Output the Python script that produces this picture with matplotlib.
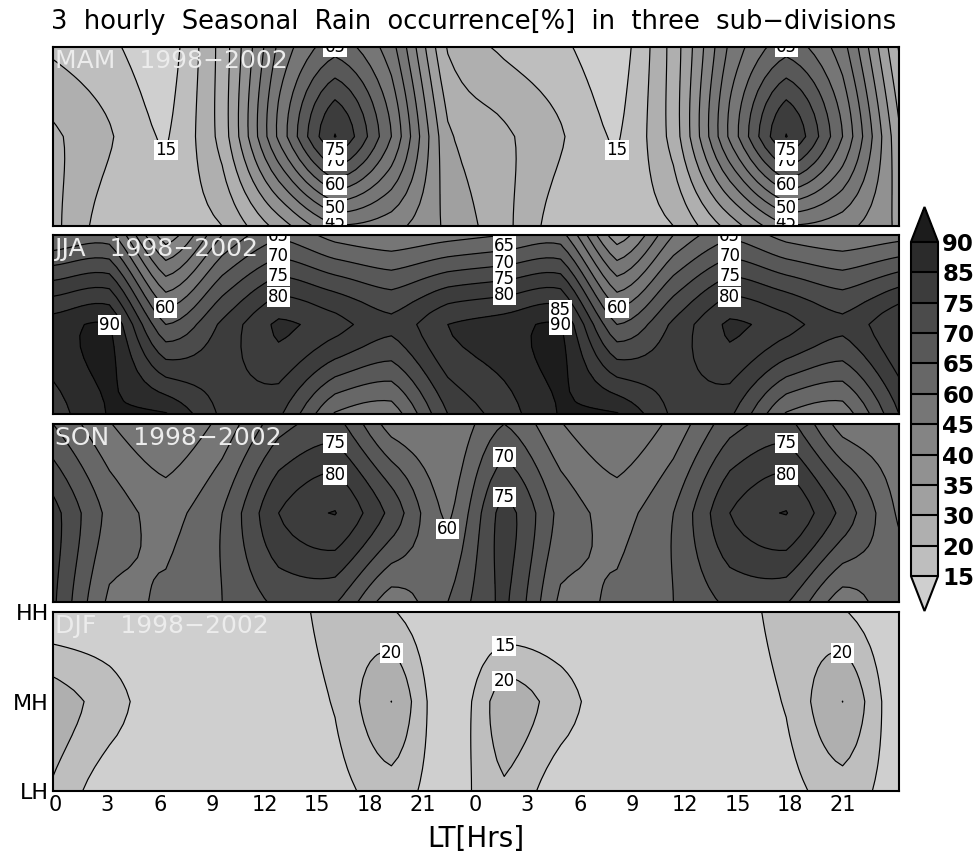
import matplotlib
matplotlib.use("Agg")
import matplotlib.pyplot as plt
import numpy as np
from matplotlib.colors import BoundaryNorm, ListedColormap

# one day of values, eight columns; the plot shows the day twice
MAM_HH = [19, 16, 12, 27, 51, 63, 52, 24.5]
MAM_MH = [26, 20.5, 14.5, 27, 56, 80.2, 60, 31]
MAM_LH = [26.5, 17, 17.5, 20, 32, 44.5, 42, 34]

JJA_HH = [60, 62, 37, 55, 64, 58, 56, 58]
JJA_MH = [87.5, 90.3, 65, 76, 86, 82, 76.5, 85]
JJA_LH = [82.4, 90.4, 90.4, 79, 76, 59.5, 57, 75]

SON_HH = [65, 55.3, 50, 56.5, 68, 72, 57.5, 55]
SON_MH = [77, 63.5, 58, 65, 80, 85.2, 73.5, 59]
SON_LH = [76, 59, 61, 65, 71, 70.5, 57, 65]

DJF_HH = [10, 10, 9, 9, 12, 17, 15.5, 9]
DJF_MH = [23, 17.5, 11, 11, 12, 15.4, 25.03, 10]
DJF_LH = [19.3, 11.5, 10, 9, 10, 13, 17.7, 12]

SHADE_LEVELS = [15, 20, 30, 35, 40, 45, 60, 65, 70, 75, 85, 90]
LINE_LEVELS = list(range(15, 95, 5))
GREYS = [190, 175, 160, 145, 132, 118, 103, 88, 75, 60, 43]
GREY_UNDER = 207
GREY_OVER = 28
HOUR_LABELS = [0, 3, 6, 9, 12, 15, 18, 21, 0, 3, 6, 9, 12, 15, 18, 21]
HEIGHT_LABELS = ["LH", "MH", "HH"]

# (column, pixel row in the picture, level)
MAM_LABELS = [(2, 150, 15), (10, 150, 15)] + [
    (col, row, lev)
    for col in (5, 13)
    for row, lev in ((47, 65), (222, 45), (208, 50), (185, 60), (161, 70), (150, 75))
]
JJA_LABELS = [
    (1, 325, 90), (2, 308, 60), (10, 308, 60), (9, 310, 85), (9, 325, 90),
    (8, 246, 65), (8, 263, 70), (8, 279, 75), (8, 295, 80),
    (4, 236, 65), (4, 256, 70), (4, 276, 75), (4, 297, 80),
    (12, 236, 65), (12, 256, 70), (12, 276, 75), (12, 297, 80),
]
SON_LABELS = [
    (5, 443, 75), (5, 475, 80), (13, 443, 75), (13, 475, 80),
    (7, 529, 60), (8, 457, 70), (8, 497, 75),
]
DJF_LABELS = [(6, 653, 20), (14, 653, 20), (8, 646, 15), (8, 681, 20)]

PANELS = [
    ("MAM", MAM_HH, MAM_MH, MAM_LH, MAM_LABELS, 47, 226),
    ("JJA", JJA_HH, JJA_MH, JJA_LH, JJA_LABELS, 235, 414),
    ("SON", SON_HH, SON_MH, SON_LH, SON_LABELS, 424, 602),
    ("DJF", DJF_HH, DJF_MH, DJF_LH, DJF_LABELS, 612, 791),
]

WIDTH, HEIGHT = 976, 856
LEFT, RIGHT = 53, 899
REFINE = 8
CUBIC_SHARE = 0.5


def grey(value):
    return (value / 255, value / 255, value / 255)


def cubic_refine(values, factor=REFINE):
    # cubic convolution along one line of grid points, eased towards straight segments
    values = np.asarray(values, dtype=float)
    padded = np.concatenate(
        ([2 * values[0] - values[1]], values, [2 * values[-1] - values[-2]])
    )
    output = []
    for i in range(1, len(padded) - 2):
        p0, p1, p2, p3 = padded[i - 1 : i + 3]
        for t in np.arange(factor) / factor:
            cubic = 0.5 * (
                2 * p1
                + (p2 - p0) * t
                + (2 * p0 - 5 * p1 + 4 * p2 - p3) * t**2
                + (3 * p1 - p0 - 3 * p2 + p3) * t**3
            )
            straight = p1 + (p2 - p1) * t
            output.append(CUBIC_SHARE * cubic + (1 - CUBIC_SHARE) * straight)
    output.append(values[-1])
    return np.array(output)


def smooth_field(field):
    rows = np.apply_along_axis(cubic_refine, 1, field)
    return np.apply_along_axis(cubic_refine, 0, rows)


def px_axes(left, top, right, bottom):
    return [left / WIDTH, 1 - bottom / HEIGHT, (right - left) / WIDTH, (bottom - top) / HEIGHT]


plt.rcParams["font.family"] = ["DejaVu Sans"]
cmap = ListedColormap([grey(v) for v in GREYS])
cmap.set_under(grey(GREY_UNDER))
cmap.set_over(grey(GREY_OVER))
norm = BoundaryNorm(SHADE_LEVELS, cmap.N)

fig = plt.figure(figsize=(WIDTH / 100, HEIGHT / 100), dpi=100)
fig.text(474 / WIDTH, 1 - 22 / HEIGHT, "3  hourly  Seasonal  Rain  occurrence[%]  in  three  sub\u2212divisions",
         ha="center", va="center", fontsize=18.5)

x_grid = np.linspace(0, 48, 16)
y_grid = np.array([0.0, 1.0, 2.0])
x_fine = np.linspace(0, 48, 15 * REFINE + 1)
y_fine = np.linspace(0, 2, 2 * REFINE + 1)

for name, hh, mh, lh, labels, top, bottom in PANELS:
    ax = fig.add_axes(px_axes(LEFT, top, RIGHT, bottom))
    field = np.tile(np.array([lh, mh, hh], dtype=float), (1, 2))
    fine = smooth_field(field)
    filled = ax.contourf(x_fine, y_fine, fine, levels=SHADE_LEVELS, cmap=cmap, norm=norm, extend="both")
    ax.contour(x_fine, y_fine, fine, levels=LINE_LEVELS, colors="black", linewidths=0.85)
    ax.set_xlim(0, 48)
    ax.set_ylim(0, 2)
    for col, row, level in labels:
        y_value = 2 * (bottom - row) / (bottom - top)
        ax.text(x_grid[col], y_value, str(level), ha="center", va="center", fontsize=12, zorder=4,
                clip_on=True, bbox=dict(boxstyle="square,pad=0.07", fc="white", ec="none"))
    ax.text(0.002, 0.92, f"{name}   1998\u22122002", transform=ax.transAxes, color="#ececec",
            fontsize=18, va="center", ha="left", zorder=5)
    for spine in ax.spines.values():
        spine.set_linewidth(1.5)
        spine.set_zorder(6)
    if name == "DJF":
        ax.set_xticks(0.1 + 2.98 * np.arange(len(HOUR_LABELS)))
        ax.set_xticklabels(HOUR_LABELS, fontsize=15)
        ax.set_yticks(y_grid)
        ax.set_yticklabels(HEIGHT_LABELS, fontsize=16)
        ax.tick_params(length=0, pad=3)
        ax.set_xlabel("LT[Hrs]", fontsize=20, labelpad=7)
    else:
        ax.set_xticks([])
        ax.set_yticks([])

cax = fig.add_axes(px_axes(911, 207, 938, 611))
bar = fig.colorbar(filled, cax=cax, extend="both", extendfrac=0.104, spacing="uniform",
                   drawedges=True, ticks=SHADE_LEVELS)
bar.outline.set_linewidth(1.5)
bar.dividers.set_linewidth(1.5)
bar.dividers.set_color("black")
bar.ax.tick_params(length=0, pad=3)
for tick in bar.ax.get_yticklabels():
    tick.set_fontsize(16.5)
    tick.set_fontweight("bold")

fig.savefig("out.png", dpi=100)
